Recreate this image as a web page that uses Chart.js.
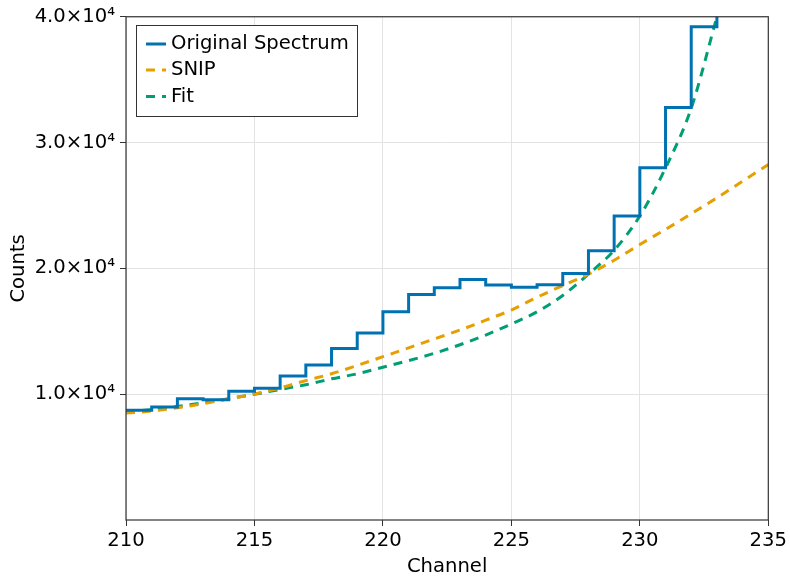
<!DOCTYPE html>
<html>
<head>
<meta charset="utf-8">
<script src="https://cdn.jsdelivr.net/npm/chart.js@4/dist/chart.umd.min.js"></script>
<style>
  html, body { margin: 0; padding: 0; background: #fff; overflow: hidden; }
  #wrap { width: 790px; height: 581px; position: relative; }
</style>
</head>
<body>
<div id="wrap"><canvas id="spectrumChart"></canvas></div>
<script>
// channels of the spectrum (step series)
const spectrumChannels = [210, 211, 212, 213, 214, 215, 216, 217, 218, 219, 220, 221,
  222, 223, 224, 225, 226, 227, 228, 229, 230, 231, 232, 233];
const spectrumCounts = [8730, 8980, 9640, 9560, 10240, 10480, 11440, 12330, 13630, 14860, 16560, 17930,
  18470, 19120, 18670, 18510, 18700, 19590, 21400, 24170, 28000, 32780, 39200, 46000];

// SNIP background
const snipChannels = [210, 211, 212, 213, 214, 215, 216, 217, 218, 219, 220, 221, 222,
  223, 224, 225, 226, 227, 228, 229, 230, 231, 232, 233, 234, 235];
const snipCounts = [8500, 8660, 8920, 9240, 9640, 10020, 10500, 11080, 11620, 12280, 12980, 13680, 14390,
  15100, 15880, 16690, 17710, 18630, 19540, 20650, 21900, 23100, 24340, 25610, 26930, 28250];

// Fit curve
const fitChannels = [210, 211, 212, 213, 214, 215, 216, 217, 218, 219, 220, 221, 222,
  223, 224, 225, 226, 227, 228, 229, 230, 231, 232, 233];
const fitCounts = [8640, 8770, 9030, 9320, 9640, 9990, 10380, 10750, 11220, 11620, 12140, 12670, 13250,
  13930, 14700, 15580, 16550, 17850, 19540, 21440, 24160, 27980, 32730, 40000];

const xTicks = [210, 215, 220, 225, 230, 235];
const yTicks = [10000, 20000, 30000, 40000];

const blue = "#0072b2";
const orange = "#e69f00";
const green = "#009e73";

Chart.defaults.font.family = "'DejaVu Sans', sans-serif";
Chart.defaults.font.size = 19.6;
Chart.defaults.color = "#000";

// frame + legend box inside the plot, top left
const frameAndLegend = {
  id: "frameAndLegend",
  afterDraw(chart) {
    const ctx = chart.ctx;
    const a = chart.chartArea;
    ctx.save();
    ctx.strokeStyle = "#333";
    ctx.lineWidth = 1.2;
    ctx.strokeRect(a.left, a.top, a.right - a.left, a.bottom - a.top);

    // legend
    const lx = 136.5, ly = 25.5, lw = 221, lh = 91;
    ctx.fillStyle = "#fff";
    ctx.fillRect(lx, ly, lw, lh);
    ctx.strokeStyle = "#333";
    ctx.lineWidth = 1;
    ctx.strokeRect(lx, ly, lw, lh);

    const rows = [44, 70, 96.5];
    chart.data.datasets.forEach((ds, i) => {
      const y = rows[i];
      ctx.strokeStyle = ds.borderColor;
      ctx.lineWidth = 3;
      ctx.setLineDash(ds.borderDash || []);
      ctx.beginPath();
      ctx.moveTo(146, y);
      ctx.lineTo(166, y);
      ctx.stroke();
      ctx.setLineDash([]);
      ctx.fillStyle = "#000";
      ctx.font = "19.6px 'DejaVu Sans', sans-serif";
      ctx.textBaseline = "middle";
      ctx.textAlign = "left";
      ctx.fillText(ds.label, 171, y);
    });
    ctx.restore();
  },
};

const config = {
  type: "line",
  data: {
    datasets: [
      {
        label: "Original Spectrum",
        data: spectrumChannels.map((c, i) => ({ x: c, y: spectrumCounts[i] })),
        borderColor: blue,
        backgroundColor: blue,
        borderWidth: 3,
        stepped: "before",
        pointRadius: 0,
      },
      {
        label: "SNIP",
        data: snipChannels.map((c, i) => ({ x: c, y: snipCounts[i] })),
        borderColor: orange,
        backgroundColor: orange,
        borderWidth: 3,
        borderDash: [9, 7],
        cubicInterpolationMode: "monotone",
        pointRadius: 0,
      },
      {
        label: "Fit",
        data: fitChannels.map((c, i) => ({ x: c, y: fitCounts[i] })),
        borderColor: green,
        backgroundColor: green,
        borderWidth: 3,
        borderDash: [9, 7],
        cubicInterpolationMode: "monotone",
        pointRadius: 0,
      },
    ],
  },
  options: {
    responsive: true,
    maintainAspectRatio: false,
    animation: false,
    layout: { padding: { top: 15, right: 21, bottom: 0, left: 0 } },
    plugins: {
      legend: { display: false },
      tooltip: { enabled: false },
    },
    scales: {
      x: {
        type: "linear",
        min: 210,
        max: 235,
        afterBuildTicks: (axis) => { axis.ticks = xTicks.map((v) => ({ value: v })); },
        afterFit: (scale) => { scale.height = 61; },
        ticks: { padding: 3, maxRotation: 0 },
        grid: { color: "#e3e3e3", lineWidth: 1, tickColor: "#333", tickLength: 6 },
        border: { display: false },
        title: { display: true, text: "Channel", padding: { top: 0, bottom: 2 } },
      },
      y: {
        type: "linear",
        min: 0,
        max: 40000,
        afterBuildTicks: (axis) => { axis.ticks = yTicks.map((v) => ({ value: v })); },
        afterFit: (scale) => { scale.width = 126; },
        ticks: {
          padding: 5,
          callback: (v) => (v / 10000).toFixed(1) + "\u00d710\u2074",
        },
        grid: { color: "#e3e3e3", lineWidth: 1, tickColor: "#333", tickLength: 6 },
        border: { display: false },
        title: { display: true, text: "Counts", padding: { top: 7, bottom: 0 } },
      },
    },
  },
  plugins: [frameAndLegend],
};

const spectrumChart = new Chart(document.getElementById("spectrumChart"), config);
</script>
</body>
</html>
